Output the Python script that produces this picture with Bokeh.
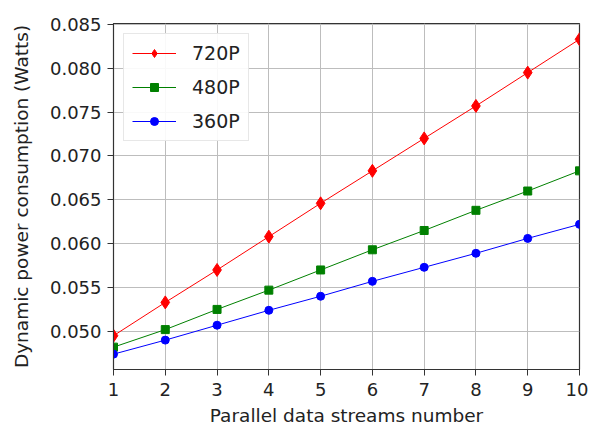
from bokeh.plotting import figure
from bokeh.models import Range1d, FixedTicker, Legend, LegendItem, ColumnDataSource
from bokeh.embed import file_html
from bokeh.resources import INLINE

streams = [1, 2, 3, 4, 5, 6, 7, 8, 9, 10]
p720 = [0.0495, 0.0533, 0.0570, 0.0608, 0.0646, 0.0683, 0.0720, 0.0757, 0.0795, 0.0833]
p480 = [0.0482, 0.0502, 0.0525, 0.0547, 0.0570, 0.0593, 0.0615, 0.0638, 0.0660, 0.0683]
p360 = [0.0474, 0.0490, 0.0507, 0.0524, 0.0540, 0.0557, 0.0573, 0.0589, 0.0606, 0.0622]
y_ticks = [0.050, 0.055, 0.060, 0.065, 0.070, 0.075, 0.080, 0.085]
y_tick_labels = ["0.050", "0.055", "0.060", "0.065", "0.070", "0.075", "0.080", "0.085"]
x_ticks = [1, 2, 3, 4, 5, 6, 7, 8, 9, 10]
x_tick_labels = ["1", "2", "3", "4", "5", "6", "7", "8", "9", "10"]

FONT = "DejaVu Sans"

p = figure(frame_width=466, frame_height=346, output_backend="svg", toolbar_location=None,
           x_range=Range1d(1, 10), y_range=Range1d(0.04565, 0.0851),
           min_border_left=113, min_border_top=23, min_border_right=9, min_border_bottom=55)

p.background_fill_color = "white"
p.border_fill_color = "white"
p.outline_line_color = "#333333"
p.outline_line_width = 1.2

for ax in (p.xaxis, p.yaxis):
    ax.axis_line_color = "#333333"
    ax.major_tick_line_color = "#333333"
    ax.major_tick_out = 6
    ax.major_tick_in = 0
    ax.minor_tick_line_color = None
    ax.major_label_text_font = FONT
    ax.major_label_text_font_size = "18px"
    ax.major_label_text_color = "#222222"
    ax.axis_label_text_font = FONT
    ax.axis_label_text_font_size = "18.5px"
    ax.axis_label_text_font_style = "normal"
    ax.axis_label_text_color = "#222222"

p.xaxis.ticker = FixedTicker(ticks=x_ticks)
p.xaxis.major_label_overrides = {t: l for t, l in zip(x_ticks, x_tick_labels)}
p.yaxis.ticker = FixedTicker(ticks=y_ticks)
p.yaxis.major_label_overrides = {t: l for t, l in zip(y_ticks, y_tick_labels)}
p.xaxis.axis_label = "Parallel data streams number"
p.yaxis.axis_label = "Dynamic power consumption (Watts)"
p.xaxis.major_label_standoff = 7
p.yaxis.major_label_standoff = 6
p.xaxis.axis_label_standoff = 6
p.yaxis.axis_label_standoff = 15

p.grid.grid_line_color = "#bdbdbd"
p.grid.grid_line_width = 1

series = [
    ("720P", p720, "#ff0000", "diamond", 13),
    ("480P", p480, "#008000", "square", 8),
    ("360P", p360, "#0000ff", "circle", 8),
]
items = []
for name, ys, color, marker, size in series:
    src = ColumnDataSource(dict(x=streams, y=ys))
    ln = p.line("x", "y", source=src, line_color=color, line_width=1)
    sc = p.scatter("x", "y", source=src, marker=marker, size=size,
                   fill_color=color, line_color=color)
    items.append(LegendItem(label=name, renderers=[ln, sc]))

legend = Legend(items=items, location="top_left")
legend.label_text_font = FONT
legend.label_text_font_size = "19px"
legend.label_text_color = "#222222"
legend.glyph_width = 44
legend.glyph_height = 20
legend.label_standoff = 16
legend.spacing = 12
legend.padding = 8
legend.margin = 10
legend.border_line_color = "#d0d0d0"
legend.border_line_width = 1
legend.background_fill_alpha = 0.9
p.add_layout(legend)

open("out.html", "w").write(file_html(p, INLINE))
